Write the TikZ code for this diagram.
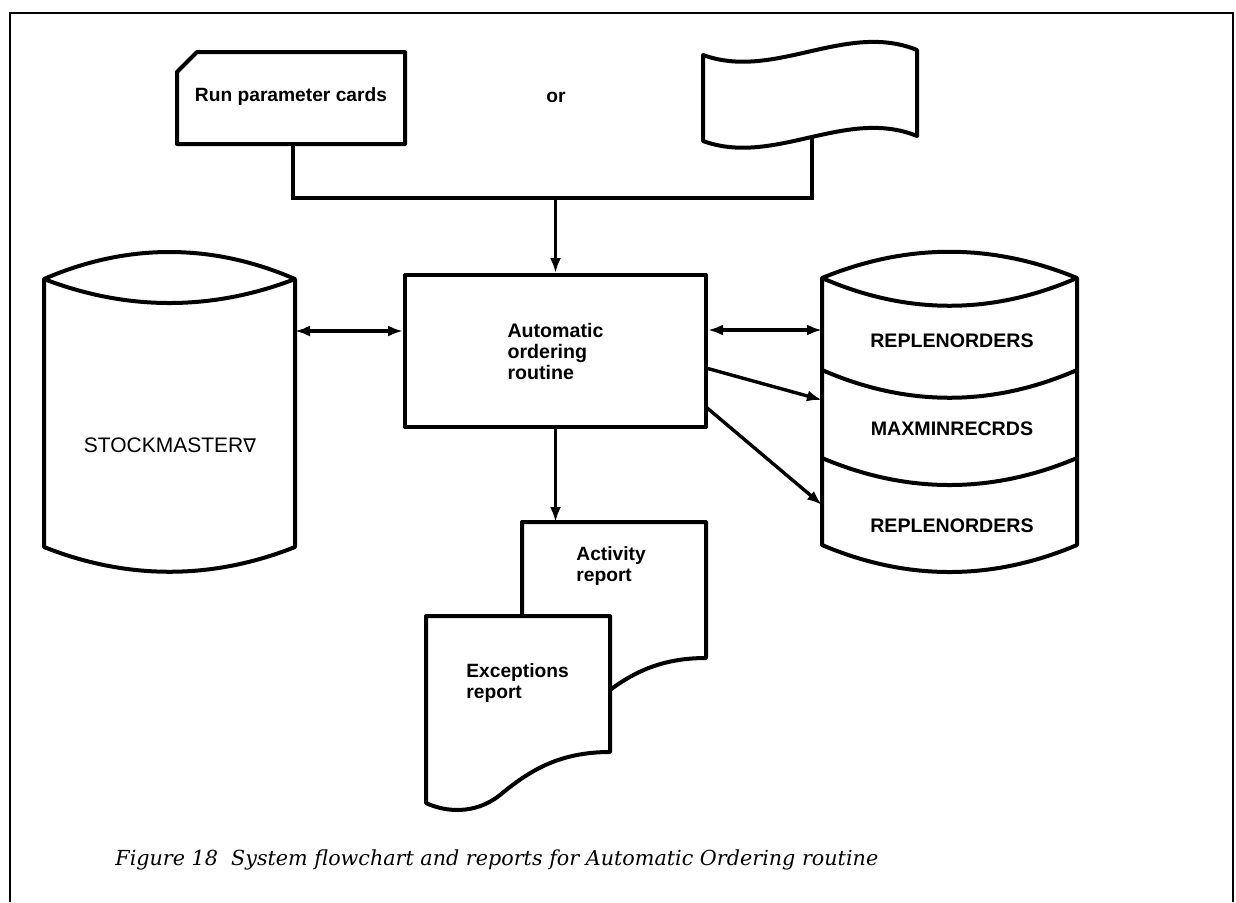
\documentclass[tikz,border=0pt]{standalone}
\usepackage{fontspec}
\setmainfont{Liberation Sans}
\newfontfamily\capfont{DejaVu Serif}
\newfontfamily\symfont{DejaVu Sans}
\usetikzlibrary{arrows.meta}
\begin{document}
\begin{tikzpicture}[x=0.5pt,y=-0.5pt,
  outline/.style={line width=2pt, line join=round},
  flow/.style={line width=1.7pt},
  tip/.tip={Latex[length=7.5pt,width=5.5pt]},
  arr/.style={flow,-tip},
  darr/.style={flow,tip-tip},
  lbl/.style={font=\fontsize{9.6}{10.5}\selectfont\bfseries, inner sep=0pt, align=left},
  dsk/.style={font=\fontsize{9.8}{11}\selectfont\bfseries, inner sep=0pt},
  procbox/.style={draw, outline, minimum width=150.5pt, minimum height=76pt,
    align=left, inner sep=0pt, font=\fontsize{9.8}{10.5}\selectfont\bfseries},
  frame/.style={line width=1.1pt}]
\useasboundingbox (0,0) rectangle (1236,902);

% page frame, open at the foot
\draw[frame] (10,902) -- (10,13) -- (1233,13) -- (1233,902);

% punched card
\draw[outline] (177,72) -- (197,52) -- (405,52) -- (405,144) -- (177,144) -- cycle;
\node[lbl] (cardtext) at (291,97) {Run parameter cards};
\coordinate (cardout) at (293,144);

\node[lbl] (or) at (556,97) {or};

% paper tape
\draw[outline] (703,55) .. controls (774,81) and (846,21) .. (917,50)
  -- (917,136) .. controls (846,107) and (774,167) .. (703,141) -- cycle;
\coordinate (tapeout) at (812,137);

% processing box
\node[procbox] (proc) at (555.5,351) {Automatic\\ordering\\routine};

% merge of the two inputs
\coordinate (join) at (555.5,198);
\draw[flow] (cardout) |- (join) -| (tapeout);
\draw[arr] (join) -- (proc.north);

% STOCKMASTER disk
\draw[outline] (44,279) .. controls (127,243) and (212,243) .. (295,279)
  -- (295,547) .. controls (212,580) and (127,580) .. (44,547) -- cycle;
\draw[outline] (44,279) .. controls (127,311) and (212,311) .. (295,279);
\node[font=\fontsize{10.5}{12}\selectfont, inner sep=0pt] (stock) at (170,445)
  {STOCKMASTER{\symfont\fontsize{9.5}{12}\selectfont ∇}};
\coordinate (stockport) at (295,331);

% three-file disk
\draw[outline] (822,278) .. controls (907,243) and (992,243) .. (1077,278)
  -- (1077,545) .. controls (992,581) and (907,581) .. (822,545) -- cycle;
\draw[outline] (822,278) .. controls (907,315) and (992,315) .. (1077,278);
\draw[outline] (822,370) .. controls (907,407) and (992,407) .. (1077,370);
\draw[outline] (822,458) .. controls (907,494) and (992,494) .. (1077,458);
\node[dsk] (f1) at (952,341) {REPLENORDERS};
\node[dsk] (f2) at (952,429) {MAXMINRECRDS};
\node[dsk] (f3) at (952,526) {REPLENORDERS};
\coordinate (rcin1) at (822,330);
\coordinate (rcin2) at (822,400);
\coordinate (rcin3) at (822,505);
\coordinate (procout2) at (706,368);
\coordinate (procout3) at (706,407);

% data flows
\draw[darr] (stockport) -- (proc.west |- stockport);
\draw[darr] (proc.east |- rcin1) -- (rcin1);
\draw[arr] (procout2) -- (rcin2);
\draw[arr] (procout3) -- (rcin3);

% reports
\draw[outline, fill=white] (522,522) -- (706,522) -- (706,658)
  .. controls (656,658) and (626,676) .. (596,701)
  .. controls (571,721) and (541,718) .. (522,709) -- cycle;
\draw[outline, fill=white] (426,616) -- (610,616) -- (610,752)
  .. controls (560,752) and (530,770) .. (500,795)
  .. controls (475,815) and (445,812) .. (426,803) -- cycle;
\node[lbl, anchor=north west] (acttext) at (576,546) {Activity\\report};
\node[lbl, anchor=north west] (exctext) at (466,663) {Exceptions\\report};
\coordinate (acttop) at (555.5,522);
\draw[arr] (proc.south) -- (acttop);

% caption
\node[anchor=base west, inner sep=0pt, font=\capfont\itshape\fontsize{10.35}{12}\selectfont]
  (caption) at (115,865)
  {Figure 18\ \ System flowchart and reports for Automatic Ordering routine};
\end{tikzpicture}
\end{document}
